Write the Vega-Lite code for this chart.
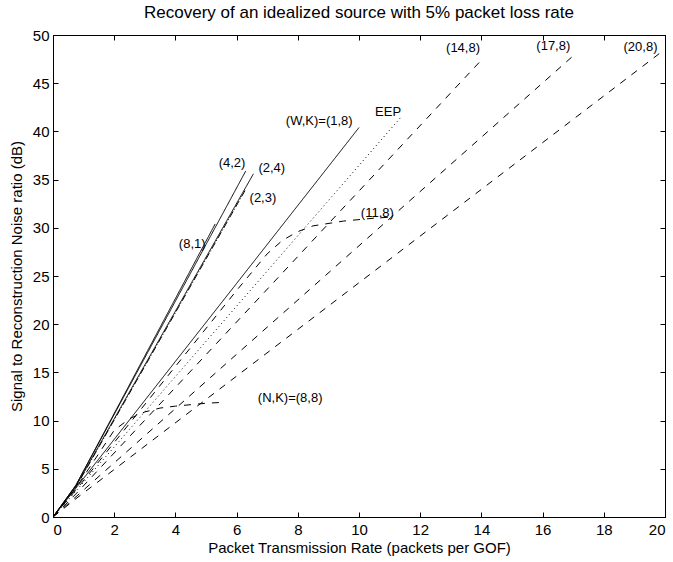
{
  "$schema": "https://vega.github.io/schema/vega-lite/v6.json",
  "width": 612,
  "height": 482,
  "autosize": {"type": "none"},
  "padding": {"left": 53, "top": 35, "right": 8, "bottom": 45},
  "background": "white",
  "config": {
    "font": "Liberation Sans",
    "view": {"stroke": "black", "strokeWidth": 1},
    "axis": {
      "grid": false,
      "domainColor": "black",
      "tickColor": "black",
      "tickSize": -5,
      "labelColor": "black",
      "titleColor": "black",
      "labelFontSize": 15,
      "titleFontSize": 15,
      "titleFontWeight": "normal",
      "labelFont": "Liberation Sans",
      "titleFont": "Liberation Sans"
    }
  },
  "title": {
    "text": "Recovery of an idealized source with 5% packet loss rate",
    "fontSize": 17,
    "fontWeight": "normal",
    "font": "Liberation Sans",
    "color": "black",
    "anchor": "middle",
    "offset": 6
  },
  "datasets": {
    "lines": [
      {"series": "(8,1)", "x": 0, "y": 0},
      {"series": "(8,1)", "x": 0.75, "y": 3.3},
      {"series": "(8,1)", "x": 5.3, "y": 30.4},
      {"series": "(4,2)", "x": 0, "y": 0},
      {"series": "(4,2)", "x": 0.75, "y": 3.3},
      {"series": "(4,2)", "x": 6.3, "y": 35.9},
      {"series": "(2,4)", "x": 0, "y": 0},
      {"series": "(2,4)", "x": 0.75, "y": 3.2},
      {"series": "(2,4)", "x": 6.55, "y": 35.6},
      {"series": "(2,3)", "x": 0, "y": 0},
      {"series": "(2,3)", "x": 0.75, "y": 3.1},
      {"series": "(2,3)", "x": 6.3, "y": 34.0},
      {"series": "(1,8)", "x": 0, "y": 0},
      {"series": "(1,8)", "x": 0.75, "y": 3.0},
      {"series": "(1,8)", "x": 10.0, "y": 40.4},
      {"series": "EEP", "x": 0, "y": 0},
      {"series": "EEP", "x": 0.75, "y": 2.7},
      {"series": "EEP", "x": 11.35, "y": 41.4},
      {"series": "(11,8)", "x": 0, "y": 0},
      {"series": "(11,8)", "x": 0.75, "y": 2.8},
      {"series": "(11,8)", "x": 6, "y": 23.5},
      {"series": "(11,8)", "x": 7, "y": 27.3},
      {"series": "(11,8)", "x": 7.5, "y": 28.7},
      {"series": "(11,8)", "x": 8, "y": 29.6},
      {"series": "(11,8)", "x": 8.5, "y": 30.2},
      {"series": "(11,8)", "x": 9.5, "y": 30.7},
      {"series": "(11,8)", "x": 10.5, "y": 31.0},
      {"series": "(11,8)", "x": 11, "y": 31.1},
      {"series": "(8,8)", "x": 0, "y": 0},
      {"series": "(8,8)", "x": 0.75, "y": 3.0},
      {"series": "(8,8)", "x": 2, "y": 9.0},
      {"series": "(8,8)", "x": 2.5, "y": 10.2},
      {"series": "(8,8)", "x": 3, "y": 10.9},
      {"series": "(8,8)", "x": 3.5, "y": 11.3},
      {"series": "(8,8)", "x": 4, "y": 11.5},
      {"series": "(8,8)", "x": 5, "y": 11.8},
      {"series": "(8,8)", "x": 5.6, "y": 11.9},
      {"series": "(14,8)", "x": 0, "y": 0},
      {"series": "(14,8)", "x": 0.75, "y": 2.4},
      {"series": "(14,8)", "x": 14, "y": 47.4},
      {"series": "(17,8)", "x": 0, "y": 0},
      {"series": "(17,8)", "x": 0.75, "y": 2.1},
      {"series": "(17,8)", "x": 16.95, "y": 47.7},
      {"series": "(20,8)", "x": 0, "y": 0},
      {"series": "(20,8)", "x": 0.75, "y": 1.9},
      {"series": "(20,8)", "x": 19.95, "y": 48.4}
    ],
    "labels": [
      {"label": "(14,8)", "lx": 13.4, "ly": 48.6},
      {"label": "(17,8)", "lx": 16.35, "ly": 48.9},
      {"label": "(20,8)", "lx": 19.2, "ly": 48.8},
      {"label": "(W,K)=(1,8)", "lx": 8.7, "ly": 41.1},
      {"label": "EEP", "lx": 10.95, "ly": 42.0},
      {"label": "(4,2)", "lx": 5.85, "ly": 36.7},
      {"label": "(2,4)", "lx": 7.15, "ly": 36.2},
      {"label": "(2,3)", "lx": 6.86, "ly": 33.1},
      {"label": "(8,1)", "lx": 4.55, "ly": 28.3},
      {"label": "(11,8)", "lx": 10.6, "ly": 31.5},
      {"label": "(N,K)=(8,8)", "lx": 7.75, "ly": 12.3}
    ]
  },
  "layer": [
    {
      "data": {"name": "lines"},
      "mark": {"type": "line", "color": "black", "strokeWidth": 1, "clip": true},
      "encoding": {
        "x": {
          "field": "x", "type": "quantitative",
          "scale": {"domain": [0, 20], "nice": false, "zero": false},
          "axis": {"orient": "bottom", "values": [0,2,4,6,8,10,12,14,16,18,20], "labelPadding": 10, "title": "Packet Transmission Rate (packets per GOF)", "titlePadding": 3}
        },
        "y": {
          "field": "y", "type": "quantitative",
          "scale": {"domain": [0, 50], "nice": false, "zero": false},
          "axis": {"orient": "left", "values": [0,5,10,15,20,25,30,35,40,45,50], "labelPadding": 9, "title": "Signal to Reconstruction Noise ratio (dB)", "titlePadding": 8}
        },
        "detail": {"field": "series", "type": "nominal"},
        "order": {"field": "x", "type": "quantitative"},
        "strokeDash": {
          "field": "series", "type": "nominal", "legend": null,
          "scale": {
            "domain": ["(8,1)", "(4,2)", "(2,4)", "(2,3)", "(1,8)", "EEP", "(11,8)", "(8,8)", "(14,8)", "(17,8)", "(20,8)"],
            "range": [[1,0], [1,0], [1,0], [7,2,1,2], [1,0], [1,3], [7,7], [7,7], [7,7], [7,7], [7,7]]
          }
        }
      }
    },
    {
      "data": {"name": "labels"},
      "mark": {"type": "text", "fill": "black", "fontSize": 13, "font": "Liberation Sans", "align": "center", "baseline": "middle"},
      "encoding": {
        "x": {"field": "lx", "type": "quantitative", "axis": null},
        "y": {"field": "ly", "type": "quantitative", "axis": null},
        "text": {"field": "label", "type": "nominal"}
      }
    },
    {
      "data": {"name": "lines"},
      "mark": {"type": "point", "opacity": 0},
      "encoding": {
        "x": {"field": "x", "type": "quantitative", "axis": {"orient": "top", "values": [0,2,4,6,8,10,12,14,16,18,20], "labels": false, "title": null}},
        "y": {"field": "y", "type": "quantitative", "axis": {"orient": "right", "values": [0,5,10,15,20,25,30,35,40,45,50], "labels": false, "title": null}}
      }
    }
  ],
  "resolve": {"axis": {"x": "independent", "y": "independent"}}
}
